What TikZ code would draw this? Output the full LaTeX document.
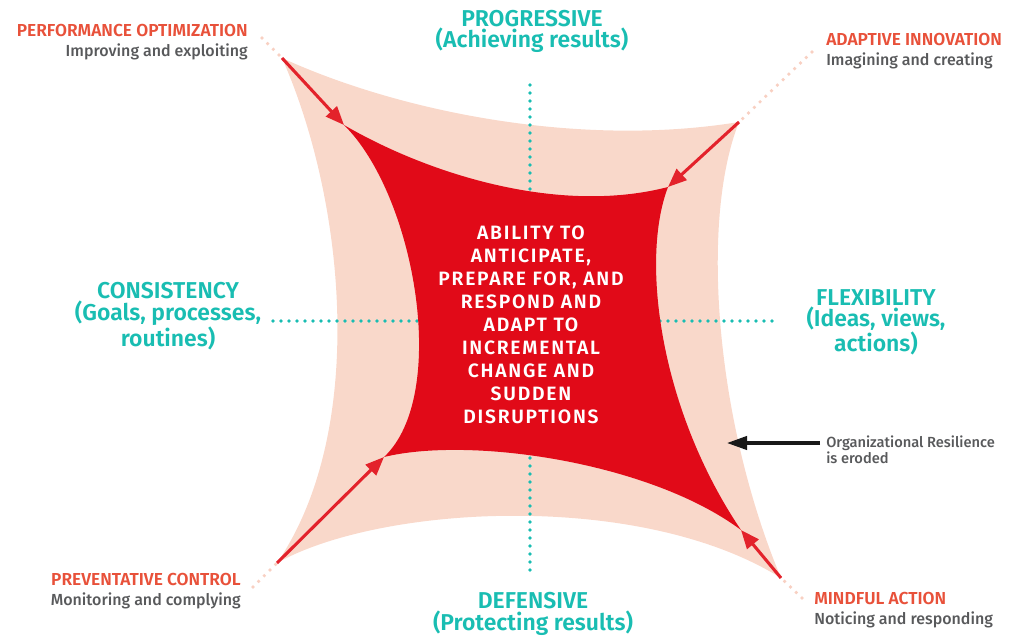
\documentclass[tikz,border=0pt]{standalone}
\usepackage{fontspec}
\setmainfont{Fira Sans}[UprightFont=* Medium, BoldFont=* SemiBold]
\usepackage{xcolor}
\usepackage{tikz}
\usetikzlibrary{arrows.meta}

\definecolor{sailpeach}{HTML}{F9D8CA}
\definecolor{sailred}{HTML}{E10A18}
\definecolor{arrowred}{HTML}{E3222B}
\definecolor{labelorange}{HTML}{E8513A}
\definecolor{sailteal}{HTML}{19BDB2}
\definecolor{labelgray}{HTML}{58595B}
\definecolor{dotpeach}{HTML}{F8D0C2}

\begin{document}
\begin{tikzpicture}[x=0.75pt, y=-0.75pt,
		pull/.style={-{Triangle[length=14pt, width=11pt]}, line width=2.3pt, draw=arrowred},
		tealdots/.style={draw=sailteal, line width=2.8pt, line cap=round, dash pattern=on 0pt off 6pt},
		peachdots/.style={draw=dotpeach, line width=2.8pt, line cap=round, dash pattern=on 0pt off 6pt},
		corner label/.style={inner sep=0pt, font=\fontsize{12}{14.3}\selectfont},
		pole label/.style={inner sep=0pt, align=center, text=sailteal, font=\bfseries\fontsize{17.2}{14.5}\selectfont},
	]
	\useasboundingbox (0,0) rectangle (1016,635);

	% corners of the outer sail and of the core
	\coordinate (outerTL) at (282,58);
	\coordinate (outerTR) at (739,122);
	\coordinate (outerBR) at (781,578);
	\coordinate (outerBL) at (277,563);
	\coordinate (coreTL) at (344,125);
	\coordinate (coreTR) at (668,187);
	\coordinate (coreBR) at (741,530);
	\coordinate (coreBL) at (384,457);

	\fill[sailpeach] (outerTL) .. controls (400,112) and (580,148) .. (outerTR)
		.. controls (700,220) and (715,420) .. (outerBR)
		.. controls (640,490) and (380,505) .. (outerBL)
		.. controls (368,430) and (345,200) .. (outerTL) -- cycle;

	% axes
	\coordinate (axisN) at (530,85);
	\coordinate (axisNin) at (530,196);
	\coordinate (axisS) at (530,570);
	\coordinate (axisSin) at (530,448);
	\coordinate (axisW) at (273,321);
	\coordinate (axisWin) at (417,321);
	\coordinate (axisE) at (772,321);
	\coordinate (axisEin) at (657,321);
	\draw[tealdots] (axisN) -- (axisNin);
	\draw[tealdots] (axisS) -- (axisSin);
	\draw[tealdots] (axisW) -- (axisWin);
	\draw[tealdots] (axisE) -- (axisEin);

	\fill[sailred] (coreTL) .. controls (430,175) and (560,215) .. (coreTR)
		.. controls (640,260) and (660,410) .. (coreBR)
		.. controls (650,462) and (470,436) .. (coreBL)
		.. controls (450,395) and (415,195) .. (coreTL) -- cycle;

	% dotted leaders to the corner labels
	\coordinate (leadTL) at (262,38);
	\coordinate (leadTR) at (812,52);
	\coordinate (leadBL) at (253,587);
	\coordinate (leadBR) at (802,598);
	\draw[peachdots] (leadTL) -- (outerTL);
	\draw[peachdots] (leadTR) -- (outerTR);
	\draw[peachdots] (leadBL) -- (outerBL);
	\draw[peachdots] (leadBR) -- (outerBR);

	\draw[pull] (outerTL) -- (coreTL);
	\draw[pull] (outerTR) -- (coreTR);
	\draw[pull] (outerBL) -- (coreBL);
	\draw[pull] (outerBR) -- (coreBR);

	\node[inner sep=0pt, align=center, text=white, font=\bfseries\fontsize{14.5}{17.2}\selectfont\addfontfeatures{LetterSpace=9}, anchor=base]
		(ability) at (531,423) {ABILITY TO\\ANTICIPATE,\\PREPARE FOR, AND\\RESPOND AND\\ADAPT TO\\INCREMENTAL\\CHANGE AND\\SUDDEN\\DISRUPTIONS};

	\node[pole label, anchor=base] (progressive) at (532,48) {PROGRESSIVE\\(Achieving results)};
	\node[pole label, anchor=base] (defensive) at (533,630) {DEFENSIVE\\(Protecting results)};
	\node[pole label, anchor=base] (consistency) at (168,346) {CONSISTENCY\\(Goals, processes,\\routines)};
	\node[pole label, anchor=base] (flexibility) at (876,351) {FLEXIBILITY\\(Ideas, views,\\actions)};

	\node[corner label, align=right, anchor=base east] (performance) at (248,56)
		{{\fontsize{13}{14.3}\selectfont\bfseries\color{labelorange}PERFORMANCE OPTIMIZATION}\\{\color{labelgray}Improving and exploiting}};
	\node[corner label, align=left, anchor=base west] (adaptive) at (826,65)
		{{\fontsize{13}{14.3}\selectfont\bfseries\color{labelorange}ADAPTIVE INNOVATION}\\{\color{labelgray}Imagining and creating}};
	\node[corner label, align=right, anchor=base east] (preventative) at (241,605)
		{{\fontsize{13}{14.3}\selectfont\bfseries\color{labelorange}PREVENTATIVE CONTROL}\\{\color{labelgray}Monitoring and complying}};
	\node[corner label, align=left, anchor=base west] (mindful) at (814,624)
		{{\fontsize{13}{14.3}\selectfont\bfseries\color{labelorange}MINDFUL ACTION}\\{\color{labelgray}Noticing and responding}};

	\node[inner sep=0pt, align=left, anchor=base west, text=labelgray, font=\fontsize{11}{11.4}\selectfont]
		(eroded) at (826,463) {Organizational Resilience\\is eroded};
	\coordinate (erodedTip) at (727,443);
	\draw[-{Triangle[length=15pt, width=10pt]}, line width=2.3pt, black!90] (eroded.west |- erodedTip) ++(-6,0) -- (erodedTip);
\end{tikzpicture}
\end{document}
